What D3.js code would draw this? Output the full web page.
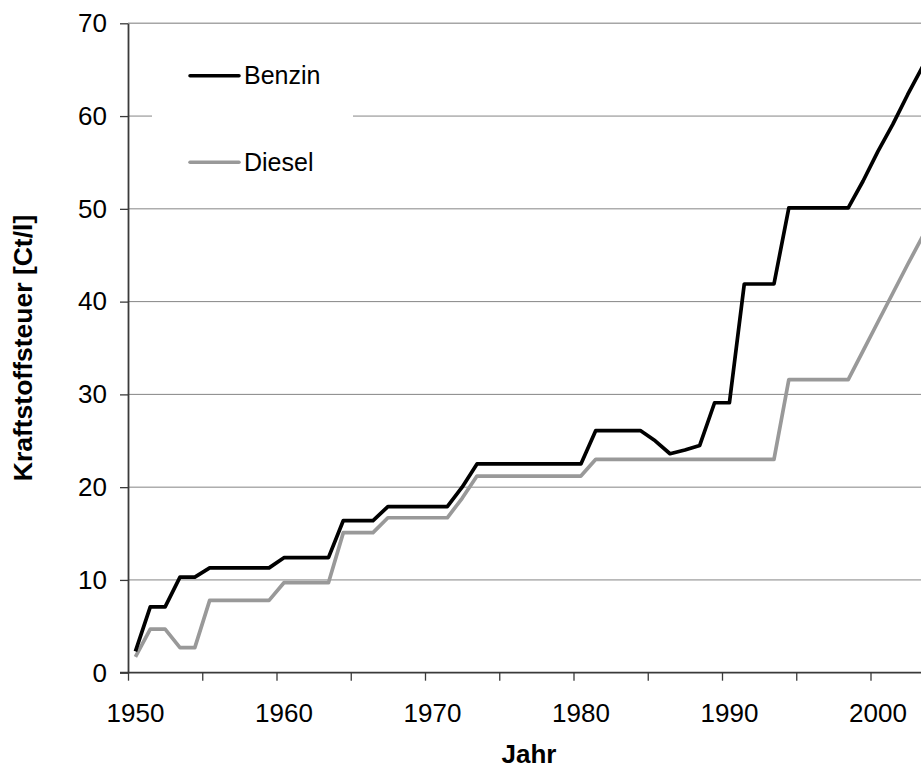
<!DOCTYPE html>
<html>
<head>
<meta charset="utf-8">
<script src="https://cdn.jsdelivr.net/npm/d3@7"></script>
<style>
  body { margin: 0; background: #fff; }
  svg { display: block; font-family: "Liberation Sans", Arial, sans-serif; }
</style>
</head>
<body>
<svg id="chart" width="921" height="769"></svg>
<script>
// years on the category axis
const years = d3.range(1950, 2004);

// Kraftstoffsteuer in Ct/l, one value per year
const benzin = [
  2.3, 7.1, 7.1, 10.3, 10.3, 11.3, 11.3, 11.3, 11.3, 11.3,
  12.4, 12.4, 12.4, 12.4, 16.4, 16.4, 16.4, 17.9, 17.9, 17.9,
  17.9, 17.9, 20.0, 22.5, 22.5, 22.5, 22.5, 22.5, 22.5, 22.5,
  22.5, 26.1, 26.1, 26.1, 26.1, 25.0, 23.6, 24.0, 24.5, 29.1,
  29.1, 41.9, 41.9, 41.9, 50.1, 50.1, 50.1, 50.1, 50.1, 53.0,
  56.2, 59.1, 62.3, 65.3
];
const diesel = [
  1.7, 4.7, 4.7, 2.7, 2.7, 7.8, 7.8, 7.8, 7.8, 7.8,
  9.7, 9.7, 9.7, 9.7, 15.1, 15.1, 15.1, 16.7, 16.7, 16.7,
  16.7, 16.7, 18.8, 21.2, 21.2, 21.2, 21.2, 21.2, 21.2, 21.2,
  21.2, 23.0, 23.0, 23.0, 23.0, 23.0, 23.0, 23.0, 23.0, 23.0,
  23.0, 23.0, 23.0, 23.0, 31.6, 31.6, 31.6, 31.6, 31.6, 34.7,
  37.8, 40.9, 44.0, 47.0
];

const yTicks = d3.range(0, 71, 10);
const tickYears = d3.range(1950, 2001, 5);
const labelYears = d3.range(1950, 2001, 10);

const plotLeft = 128, plotTop = 23.3, plotBottom = 672.7;
const catWidth = 14.85;
const plotRight = plotLeft + years.length * catWidth;

const svg = d3.select('#chart');

const x = d3.scaleBand().domain(years).range([plotLeft, plotRight]).padding(0);
const xEdge = d3.scaleLinear().domain([1950, 1950 + years.length]).range([plotLeft, plotRight]);
const y = d3.scaleLinear().domain([0, 70]).range([plotBottom, plotTop]);

// gridlines
svg.append('g')
  .selectAll('line')
  .data(yTicks.filter(d => d > 0))
  .enter()
  .append('line')
  .attr('x1', plotLeft)
  .attr('x2', plotRight)
  .attr('y1', d => y(d))
  .attr('y2', d => y(d))
  .style('stroke', d => d === 70 ? '#a6a6a6' : '#858585')
  .style('stroke-width', d => d === 70 ? 1.6 : 1);

// legend background hides the grid behind it
svg.append('rect')
  .attr('x', 152)
  .attr('y', 40)
  .attr('width', 201)
  .attr('height', 150)
  .style('fill', '#fff');

// y axis
const yAxis = svg.append('g')
  .attr('transform', `translate(${plotLeft},0)`)
  .call(d3.axisLeft(y).tickValues(yTicks).tickSize(8).tickSizeOuter(0).tickPadding(13));
yAxis.select('.domain').style('stroke', '#3a3a3a').style('stroke-width', 1.8);
yAxis.selectAll('.tick line').style('stroke', '#3a3a3a').style('stroke-width', 1.3);
yAxis.selectAll('.tick text')
  .style('font-size', '26px')
  .style('font-family', '"Liberation Sans", Arial, sans-serif')
  .style('fill', '#000');

// x axis
const xAxis = svg.append('g')
  .attr('transform', `translate(0,${plotBottom})`)
  .call(d3.axisBottom(xEdge).tickValues(tickYears).tickSize(8).tickSizeOuter(0).tickFormat(''));
xAxis.select('.domain').attr('d', `M${plotLeft - 8},0H${plotRight}`)
  .style('stroke', '#3a3a3a').style('stroke-width', 1.8);
xAxis.selectAll('.tick line').style('stroke', '#3a3a3a').style('stroke-width', 1.3);

svg.append('g')
  .selectAll('text')
  .data(labelYears)
  .enter()
  .append('text')
  .attr('x', d => x(d) + x.bandwidth() / 2)
  .attr('y', 722)
  .attr('text-anchor', 'middle')
  .style('font-size', '26px')
  .text(d => d);

// axis titles
svg.append('text')
  .attr('x', (plotLeft + plotRight) / 2)
  .attr('y', 763)
  .attr('text-anchor', 'middle')
  .style('font-size', '26px')
  .style('font-weight', 'bold')
  .text('Jahr');

svg.append('text')
  .attr('transform', `translate(31.5,${(plotTop + plotBottom) / 2}) rotate(-90)`)
  .attr('text-anchor', 'middle')
  .style('font-size', '26.5px')
  .style('font-weight', 'bold')
  .text('Kraftstoffsteuer [Ct/l]');

// series lines
const series = [
  { name: 'Diesel', values: diesel, color: '#999999', ly: 162.3 },
  { name: 'Benzin', values: benzin, color: '#000000', ly: 75.7 }
];

const line = d3.line()
  .x((d, i) => x(years[i]) + x.bandwidth() / 2)
  .y(d => y(d));

svg.append('g')
  .selectAll('path')
  .data(series)
  .enter()
  .append('path')
  .attr('d', d => line(d.values))
  .style('fill', 'none')
  .style('stroke', d => d.color)
  .style('stroke-width', 3.7)
  .style('stroke-linejoin', 'round');

// legend
const legend = svg.append('g')
  .selectAll('g')
  .data(series)
  .enter()
  .append('g');

legend.append('line')
  .attr('x1', 190)
  .attr('x2', 239)
  .attr('y1', d => d.ly)
  .attr('y2', d => d.ly)
  .style('stroke', d => d.color)
  .style('stroke-width', 3.5)
  .style('stroke-linecap', 'round');

legend.append('text')
  .attr('x', 244)
  .attr('y', d => d.ly + 8.5)
  .style('font-size', '25px')
  .text(d => d.name);
</script>
</body>
</html>
